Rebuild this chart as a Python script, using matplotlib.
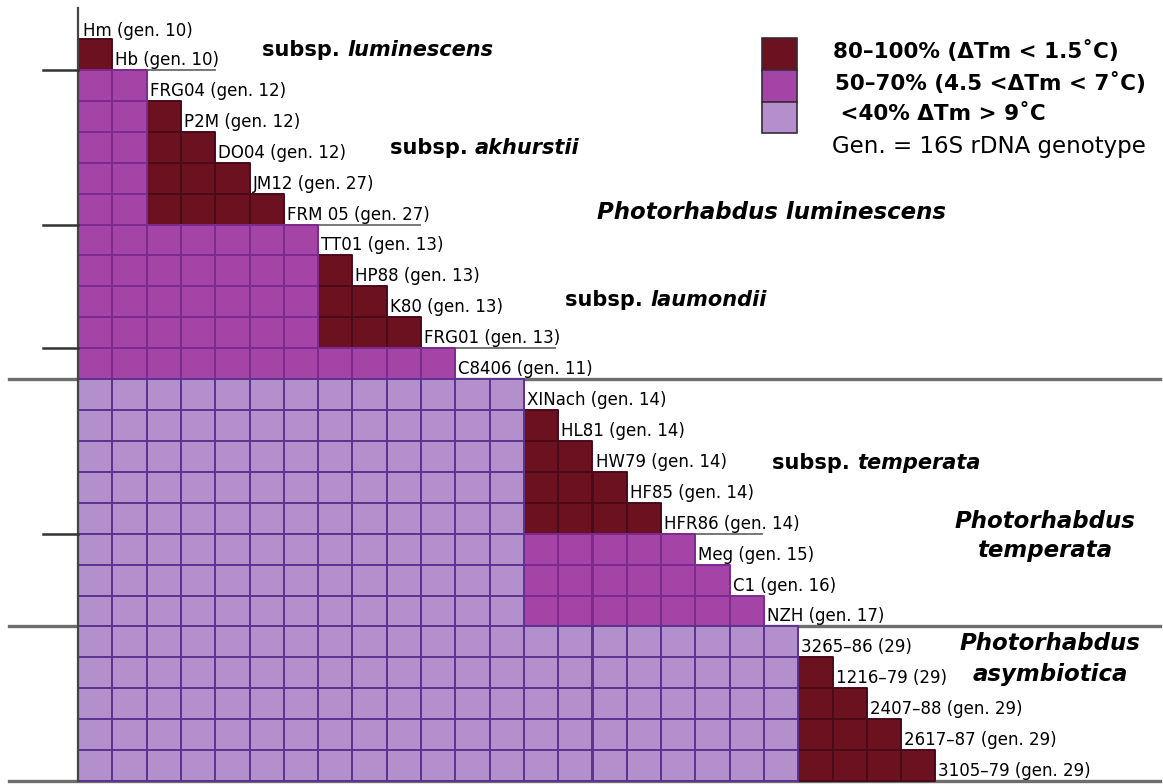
import numpy as np
import matplotlib.pyplot as plt
from matplotlib.patches import Rectangle
from matplotlib.collections import PatchCollection

plt.rcParams["font.family"] = ["DejaVu Sans"]

# strains in matrix order (first one only heads the top row)
strains = ["Hm (gen. 10)", "Hb (gen. 10)", "FRG04 (gen. 12)", "P2M (gen. 12)",
           "DO04 (gen. 12)", "JM12 (gen. 27)", "FRM 05 (gen. 27)", "TT01 (gen. 13)",
           "HP88 (gen. 13)", "K80 (gen. 13)", "FRG01 (gen. 13)", "C8406 (gen. 11)",
           "XINach (gen. 14)", "HL81 (gen. 14)", "HW79 (gen. 14)", "HF85 (gen. 14)",
           "HFR86 (gen. 14)", "Meg (gen. 15)", "C1 (gen. 16)", "NZH (gen. 17)",
           "3265\u201386 (29)", "1216\u201379 (29)", "2407\u201388 (gen. 29)",
           "2617\u201387 (gen. 29)", "3105\u201379 (gen. 29)"]

# hybridisation class of each cell, row by row
# D = 80-100 %, M = 50-70 %, L = <40 %
rows = [
    "D",
    "MM",
    "MMD",
    "MMDD",
    "MMDDD",
    "MMDDDD",
    "MMMMMMM",
    "MMMMMMMD",
    "MMMMMMMDD",
    "MMMMMMMDDD",
    "MMMMMMMMMMM",
    "LLLLLLLLLLLLL",
    "LLLLLLLLLLLLLD",
    "LLLLLLLLLLLLLDD",
    "LLLLLLLLLLLLLDDD",
    "LLLLLLLLLLLLLDDDD",
    "LLLLLLLLLLLLLMMMMM",
    "LLLLLLLLLLLLLMMMMMM",
    "LLLLLLLLLLLLLMMMMMMM",
    "LLLLLLLLLLLLLLLLLLLLL",
    "LLLLLLLLLLLLLLLLLLLLLD",
    "LLLLLLLLLLLLLLLLLLLLLDD",
    "LLLLLLLLLLLLLLLLLLLLLDDD",
    "LLLLLLLLLLLLLLLLLLLLLDDDD",
]

classes = ["D", "M", "L"]
class_colors = {"D": "#6b1120", "M": "#a444a6", "L": "#b38fcc"}
class_edges = {"D": "#4a0a18", "M": "#7c2a8e", "L": "#5e3290"}
legend_text = ["80\u2013100% (\u0394Tm < 1.5\u02daC)",
               "50\u201370% (4.5 <\u0394Tm < 7\u02daC)",
               " <40% \u0394Tm > 9\u02daC"]

# row boundaries with a group line: (row boundary, right end, long line)
group_lines = [(1, 215, False), (6, 420, False), (10, 555, False),
               (11, 1160, True), (16, 762, False), (19, 1160, True), (24, 1160, True)]

W, H = 1163, 784
x0, y0 = 78, 39
cw, rh = 34.3, 30.92

fig = plt.figure(figsize=(W / 100, H / 100), dpi=100)
ax = fig.add_axes([0, 0, 1, 1])
ax.set_xlim(0, W)
ax.set_ylim(H, 0)
ax.axis("off")

# matrix cells, one collection per class
for c in classes:
    cells = [Rectangle((x0 + j * cw, y0 + i * rh), cw, rh)
             for i, r in enumerate(rows) for j, v in enumerate(r) if v == c]
    ax.add_collection(PatchCollection(cells, facecolor=class_colors[c],
                                      edgecolor=class_edges[c], linewidth=1.4, zorder=2))

ye = y0 + np.arange(len(rows) + 1) * rh

# axis line and group separators
ax.plot([x0, x0], [8, ye[-1]], color="#444444", lw=1.6, zorder=3)
for b, xr, long in group_lines:
    y = ye[b]
    if long:
        ax.plot([9, xr], [y, y], color="#6e6e6e", lw=2.4, zorder=1)
    else:
        ax.plot([43, x0], [y, y], color="#333333", lw=1.8, zorder=3)
        ax.plot([x0, xr], [y, y], color="#777777", lw=1.4, zorder=1)

# strain labels at the end of each row
ax.text(x0 + 5, y0 - 8, strains[0], fontsize=12, va="center", ha="left", zorder=4)
for i, r in enumerate(rows):
    ax.text(x0 + len(r) * cw + 3, ye[i + 1] - 10, strains[i + 1], fontsize=12,
            va="center", ha="left", zorder=4)

# subspecies and species names
for name, x, y in [("luminescens", 262, 50), ("akhurstii", 390, 148),
                   ("laumondii", 565, 300), ("temperata", 772, 463)]:
    t = ax.text(x, y, "subsp. ", fontsize=15, fontweight="bold", va="center", ha="left")
    ax.annotate(name, xycoords=t, xy=(1, 0.5), va="center", ha="left",
                fontsize=15, fontweight="bold", fontstyle="italic")

sp = dict(fontsize=16.5, fontweight="bold", fontstyle="italic", va="center")
ax.text(597, 212, "Photorhabdus luminescens", ha="left", **sp)
ax.text(1045, 521, "Photorhabdus", ha="center", **sp)
ax.text(1045, 551, "temperata", ha="center", **sp)
ax.text(1050, 643, "Photorhabdus", ha="center", **sp)
ax.text(1050, 675, "asymbiotica", ha="center", **sp)

# legend
lx, ly, lw_, lh = 762, 38, 35, 31.8
for k, c in enumerate(classes):
    ax.add_patch(Rectangle((lx, ly + k * lh), lw_, lh, facecolor=class_colors[c],
                           edgecolor="#3a2a3a", lw=1.2, zorder=2))
for k, (txt, x) in enumerate(zip(legend_text, [833, 835, 833])):
    ax.text(x, ly + (k + 0.4) * lh, txt, fontsize=15.5, fontweight="bold",
            va="center", ha="left")
ax.text(832, 146, "Gen. = 16S rDNA genotype", fontsize=16.5, va="center", ha="left")

fig.savefig("out.png", dpi=100, facecolor="white")
